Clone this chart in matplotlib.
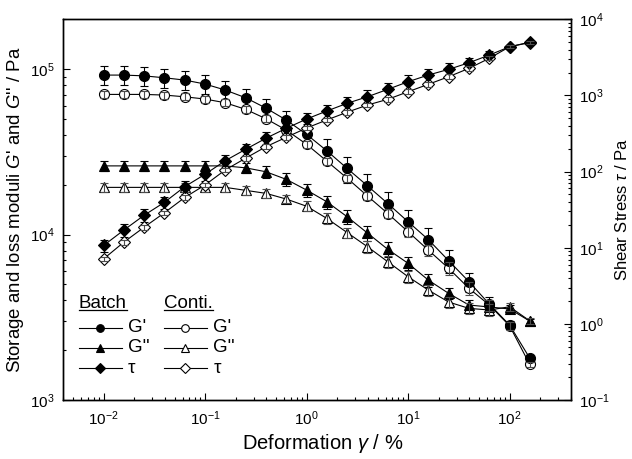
import numpy as np
import matplotlib; matplotlib.use("Agg")
import matplotlib.pyplot as plt
from matplotlib.lines import Line2D

plt.rcParams["font.family"] = ["Liberation Sans", "DejaVu Sans"]
plt.rcParams["mathtext.fontset"] = "custom"
plt.rcParams["mathtext.rm"] = "Liberation Sans"
plt.rcParams["mathtext.it"] = "Liberation Sans:italic"

# strain sweep, %
strain = [0.01, 0.0158, 0.0251, 0.0398, 0.0631, 0.1, 0.158, 0.251, 0.398, 0.631,
          1.0, 1.58, 2.51, 3.98, 6.31, 10, 15.8, 25.1, 39.8, 63.1, 100, 158]

# Batch (Pa)
g1_batch = [92000, 92000, 91000, 88600, 85800, 81200, 74700, 67100, 58100, 49200, 40300,
            32100, 25100, 19700, 15400, 11950, 9330, 6950, 5190, 3800, 2840, 1790]
g2_batch = [26000, 26000, 26000, 26000, 26000, 26000, 26000, 25300, 23960, 21550, 18570,
            15790, 12810, 10210, 8140, 6700, 5310, 4410, 3750, 3650, 3550, 3000]
tau_batch = [10.7, 17.0, 26.7, 39.5, 63.4, 92.2, 139, 196, 274, 370, 490,
             624, 788, 961, 1202, 1513, 1852, 2200, 2687, 3390, 4356, 5000]

# Conti (Pa)
g1_conti = [70300, 70300, 70300, 69650, 68000, 65900, 62600, 57100, 50100, 42800, 35100,
            27800, 21900, 17100, 13400, 10400, 8060, 6250, 4730, 3750, 2810, 1640]
g2_conti = [19280, 19280, 19280, 19280, 19280, 19280, 19280, 18500, 17740, 16390, 14830,
            12530, 10280, 8440, 6850, 5560, 4620, 3910, 3580, 3500, 3660, 3010]
tau_conti = [7.13, 11.8, 18.6, 28.8, 45.7, 66.7, 105, 150, 212, 282, 373,
             476, 602, 748, 889, 1118, 1399, 1760, 2268, 3069, 4356, 4945]

# error bars, % of value
err_g1_batch = [13, 13, 13, 13, 13, 13, 13, 13, 13, 14, 15, 17, 18, 18, 18, 18, 18, 16, 13, 10, 6, 3]
err_g2_batch = [7, 7, 7, 7, 7, 7, 7, 7, 8, 9, 9, 9, 10, 10, 10, 9, 9, 8, 8, 7, 5, 3]
err_tau_batch = [19, 19, 19, 19, 19, 19, 19, 19, 19, 19, 19, 20, 21, 22, 22, 22, 21, 20, 17, 12, 6, 3]
err_g1_conti = [5, 5, 5, 5, 5, 5, 5, 5, 5, 5, 5, 5, 5, 6, 6, 7, 8, 9, 9, 8, 6, 4]
err_g2_conti = [6, 6, 6, 6, 6, 6, 6, 6, 6, 6, 7, 7, 7, 8, 8, 8, 8, 8, 8, 8, 6, 4]
err_tau_conti = [7, 7, 7, 7, 7, 7, 7, 7, 7, 7, 7, 7, 7, 7, 7, 7, 7, 7, 7, 6, 5, 4]

x = np.array(strain)

def pct(v, e):
    return np.array(v) * np.array(e) / 100.0

fig = plt.figure(figsize=(6.32, 4.59), dpi=100)
ax = fig.add_axes([0.100, 0.1285, 0.803, 0.8295])
ax2 = ax.twinx()

LW = 0.8
def series(a, y, e, marker, filled, ms):
    mfc = "k" if filled else "white"
    a.plot(x, y, "-", color="k", lw=LW, marker=marker, ms=ms, mfc=mfc, mec="k",
           mew=0.8, zorder=3)
    ecol = "k" if filled else "0.3"
    a.errorbar(x, y, yerr=pct(y, e), fmt="none", ecolor=ecol, elinewidth=LW,
               capsize=3, capthick=LW, zorder=2 if filled else 4)

series(ax, g1_conti, err_g1_conti, "o", False, 7.2)
series(ax, g2_conti, err_g2_conti, "^", False, 7.2)
series(ax, g1_batch, err_g1_batch, "o", True, 7.2)
series(ax, g2_batch, err_g2_batch, "^", True, 7.2)
series(ax2, tau_conti, err_tau_conti, "D", False, 6.2)
series(ax2, tau_batch, err_tau_batch, "D", True, 6.2)

for a in (ax, ax2):
    a.set_xscale("log")
    a.set_yscale("log")
    a.tick_params(which="both", direction="in", labelsize=11, width=0.8)
    a.tick_params(which="major", length=5)
    a.tick_params(which="minor", length=2.5)
ax.set_xlim(0.004, 400)
ax.set_ylim(1e3, 2e5)
ax2.set_ylim(0.1, 1e4)
ax.tick_params(axis="x", pad=7)
ax.tick_params(axis="y", pad=6)
ax2.tick_params(axis="y", pad=6)
ax.tick_params(top=False)
for a in (ax, ax2):
    for s in a.spines.values():
        s.set_linewidth(1.0)

ax.set_xlabel(r"Deformation $\mathit{\gamma}$ / %", fontsize=14.5)
ax.set_ylabel(r"Storage and loss moduli $\mathit{G}$' and $\mathit{G}$'' / Pa", fontsize=13.4)
ax2.set_ylabel(r"Shear Stress $\mathit{\tau}$ / Pa", fontsize=12)
ax.xaxis.set_label_coords(0.512, -0.083)
ax.yaxis.set_label_coords(-0.074, 0.50)
ax2.yaxis.set_label_coords(1.085, 0.5)

# legend, drawn by hand
hdr = []
hdr.append(ax.text(0.031, 0.2425, "Batch", transform=ax.transAxes, fontsize=13.5, va="baseline"))
hdr.append(ax.text(0.199, 0.2425, "Conti.", transform=ax.transAxes, fontsize=13.5, va="baseline"))
rows = [("o", "G'", 0.190), ("^", "G''", 0.137), ("D", "\u03c4", 0.083)]
for x0, x1, xm, xt, filled in [(0.031, 0.115, 0.072, 0.128, True), (0.199, 0.283, 0.240, 0.296, False)]:
    for mk, lab, yy in rows:
        ax.add_line(Line2D([x0, x1], [yy, yy], transform=ax.transAxes, color="k", lw=LW, zorder=5))
        ax.add_line(Line2D([xm], [yy], transform=ax.transAxes, marker=mk, ms=5.5 if mk != "D" else 5,
                           mfc="k" if filled else "white", mec="k", mew=0.8, ls="none", zorder=6))
        ax.text(xt, yy, lab, transform=ax.transAxes, fontsize=13.5, va="center")

fig.canvas.draw()
inv = ax.transAxes.inverted()
for t in hdr:
    bb = t.get_window_extent()
    (ax0, ay0), (ax1, _) = inv.transform([(bb.x0, bb.y0), (bb.x1, bb.y0)])
    ax.add_line(Line2D([ax0, ax1], [0.236, 0.236], transform=ax.transAxes, color="k", lw=0.9))

fig.savefig("out.png", dpi=100)
